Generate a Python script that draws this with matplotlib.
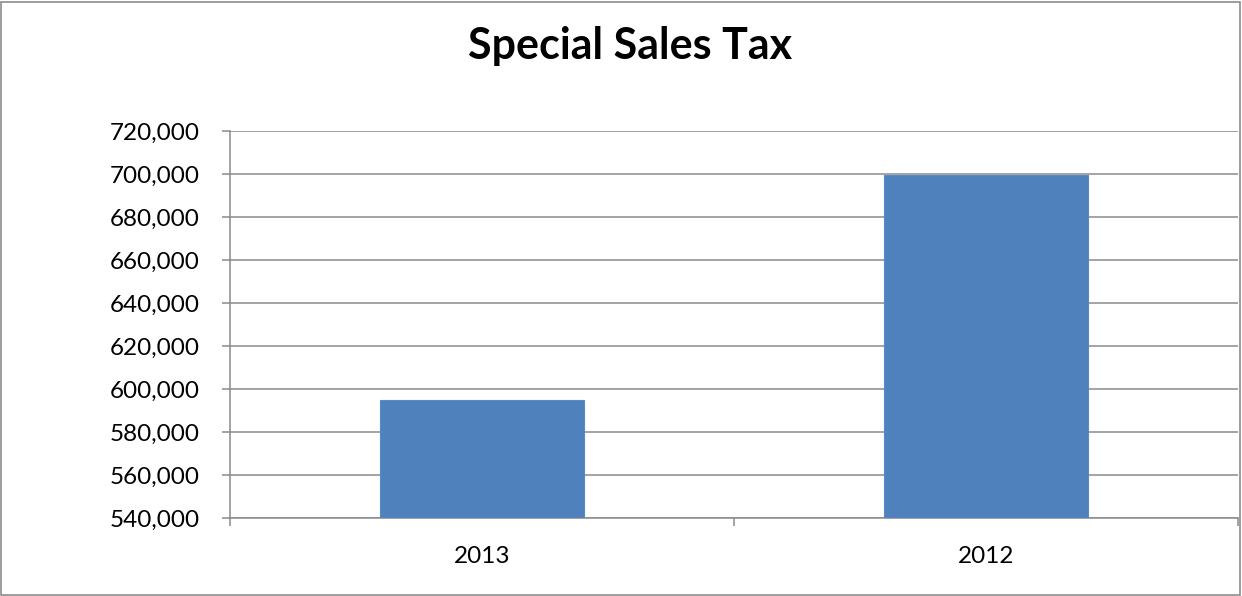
import matplotlib
matplotlib.use("Agg")
import matplotlib.pyplot as plt
from matplotlib.patches import Rectangle
from matplotlib.ticker import FuncFormatter, FixedLocator
import numpy as np

# chart data
years = ["2013", "2012"]
sales_tax = [595000, 699500]

plt.rcParams['font.family'] = ['Lato', 'DejaVu Sans']

grid_col = "#8a8a8a"
bar_col = "#4F81BD"

fig = plt.figure(figsize=(12.42, 5.96), dpi=100)
ax = fig.add_axes([0.1852, 0.1309, 0.8116, 0.6493])

x = np.arange(len(years))
ax.bar(x, sales_tax, width=0.403, color=bar_col, edgecolor="#5a8ac6", linewidth=0.8, zorder=3)

# y axis
ax.set_ylim(540000, 720000)
ax.set_yticks(np.arange(540000, 720001, 20000))
ax.yaxis.set_major_formatter(FuncFormatter(lambda v, p: f"{int(v):,}"))
ax.grid(axis="y", color=grid_col, linewidth=1.1, zorder=0)

# x axis: labels at categories, tick marks between them
ax.set_xlim(-0.5, len(years) - 0.5)
ax.set_xticks(x)
ax.set_xticklabels(years)
ax.xaxis.set_minor_locator(FixedLocator(np.arange(-0.5, len(years), 1.0)))
ax.tick_params(axis="x", which="major", length=0, pad=20, labelsize=17.5)
ax.tick_params(axis="x", which="minor", length=6, width=1.1, color=grid_col, direction="out")
ax.tick_params(axis="y", length=6, width=1.1, color=grid_col, pad=16, labelsize=17.5)

for side in ["top", "right"]:
    ax.spines[side].set_visible(False)
for side in ["left", "bottom"]:
    ax.spines[side].set_color(grid_col)
    ax.spines[side].set_linewidth(1.1)

# title
fig.text(0.507, 1 - 59 / 596, "Special Sales Tax", ha="center", va="baseline",
         fontsize=31, fontweight="bold")

# chart border
fig.patches.append(Rectangle((0.001, 0.002), 0.997, 0.995, transform=fig.transFigure,
                             fill=False, edgecolor="#8c8c8c", linewidth=1.2))

fig.savefig("out.png", dpi=100)
